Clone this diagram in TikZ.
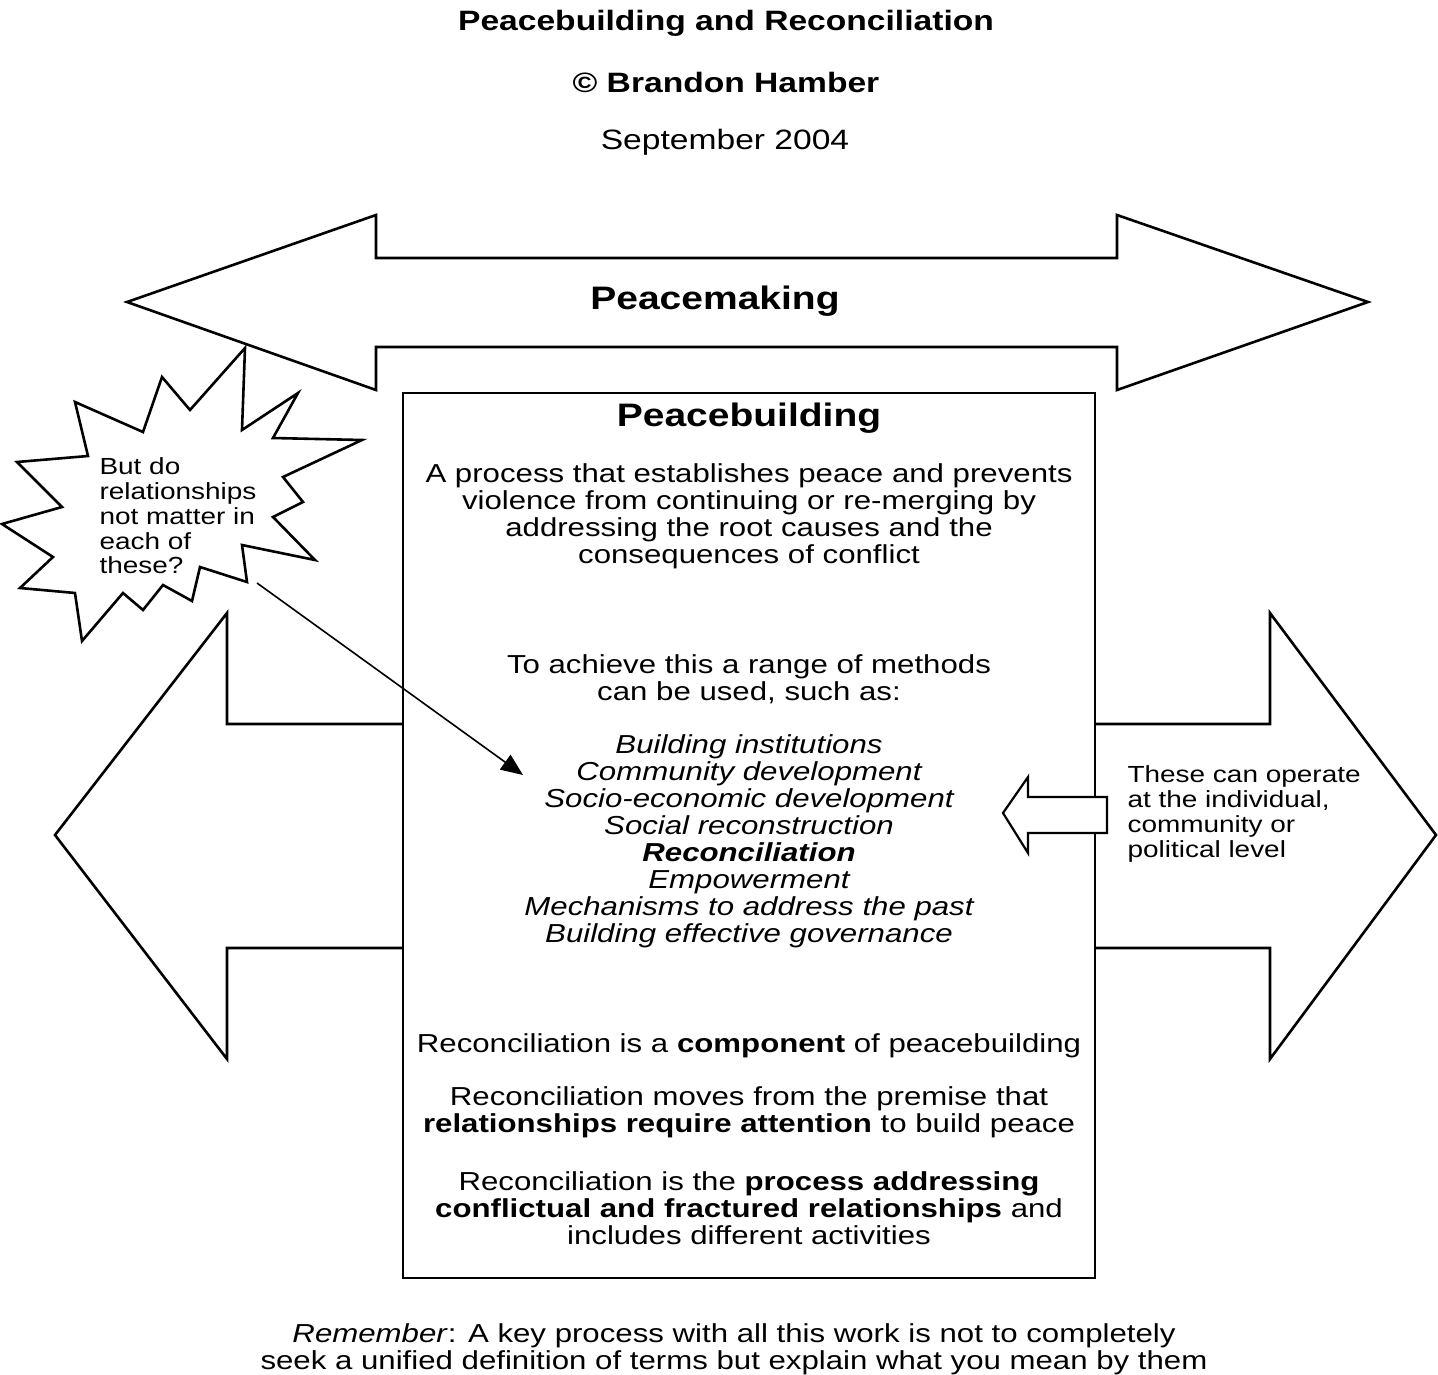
\documentclass[tikz,border=0pt]{standalone}
\usepackage{fontspec}
\setmainfont{Liberation Sans}[FakeStretch=1.2]
\usetikzlibrary{arrows.meta}

\begin{document}
\begin{tikzpicture}[x=1pt,y=-1pt,
  outline/.style={draw=black,line width=2.6pt,fill=white,line join=miter},
  bodytext/.style={font=\fontsize{26}{27}\selectfont,align=center},
  smalltext/.style={font=\fontsize{23.3}{24.7}\selectfont,align=left},
  headtext/.style={font=\bfseries\fontsize{32.5}{34}\selectfont},
  titletext/.style={font=\bfseries\fontsize{28}{30}\selectfont}
]
\useasboundingbox (0,0) rectangle (1438,1374);

\node[titletext] (maintitle) at (726,23) {Peacebuilding and Reconciliation};
\node[titletext] (author) at (726,82) {© Brandon Hamber};
\node[font=\fontsize{28}{30}\selectfont] (date) at (725,142) {September 2004};

\draw[outline] (127,302) -- (376,215) -- (376,258) -- (1117,258) -- (1117,215) -- (1368,302)
  -- (1117,390) -- (1117,347) -- (376,347) -- (376,390) -- cycle;
\node[headtext] (peacemaking) at (715,301) {Peacemaking};

\draw[outline] (245,348) -- (242,430) -- (298,393) -- (273,438) -- (362,440) -- (283,477)
  -- (303,502) -- (273,517) -- (315,560) -- (242,545) -- (247,582) -- (200,567)
  -- (192,601) -- (163,585) -- (143,610) -- (123,593) -- (82,641) -- (75,593)
  -- (20,588) -- (53,557) -- (2,524) -- (62,507) -- (17,462) -- (88,456)
  -- (75,402) -- (143,432) -- (162,377) -- (190,410) -- cycle;
\node[smalltext,anchor=west] (burstnote) at (96,516) {But do\\relationships\\not matter in\\each of\\these?};

\draw[outline] (55,835) -- (227,613) -- (227,724) -- (1270,724) -- (1270,613) -- (1436,835)
  -- (1270,1059) -- (1270,948) -- (227,948) -- (227,1059) -- cycle;

\draw[outline] (403,393) rectangle (1095,1278);

\node[headtext] (pbhead) at (749,418) {Peacebuilding};
\node[bodytext] (pbdef) at (749,516) {A process that establishes peace and prevents\\violence from continuing or re-merging by\\addressing the root causes and the\\consequences of conflict};
\node[bodytext] (methodsintro) at (749,679) {To achieve this a range of methods\\can be used, such as:};
\node[bodytext,font=\itshape\fontsize{26}{27}\selectfont] (methods) at (749,841) {Building institutions\\Community development\\Socio-economic development\\Social reconstruction\\\textbf{Reconciliation}\\Empowerment\\Mechanisms to address the past\\Building effective governance};
\node[bodytext] (component) at (749,1046) {Reconciliation is a \textbf{component} of peacebuilding};
\node[bodytext] (premise) at (749,1112) {Reconciliation moves from the premise that\\\textbf{relationships require attention} to build peace};
\node[bodytext] (process) at (749,1208) {Reconciliation is the \textbf{process addressing}\\\textbf{conflictual and fractured relationships} and\\includes different activities};

\draw[outline,line width=2.2pt] (1003,813) -- (1028,777) -- (1028,797) -- (1107,797) -- (1107,833)
  -- (1028,833) -- (1028,853) -- cycle;
\node[smalltext,anchor=west] (levels) at (1124,814) {These can operate\\at the individual,\\community or\\political level};

\coordinate (burstspike) at (257,583);
\coordinate (methodsmark) at (523,775);
\draw[line width=1.6pt,-{Triangle[length=22pt,width=18pt]}] (burstspike) -- (methodsmark);

\node[bodytext] (remember) at (734,1349) {\textit{Remember}: A key process with all this work is not to completely\\seek a unified definition of terms but explain what you mean by them};
\end{tikzpicture}
\end{document}
